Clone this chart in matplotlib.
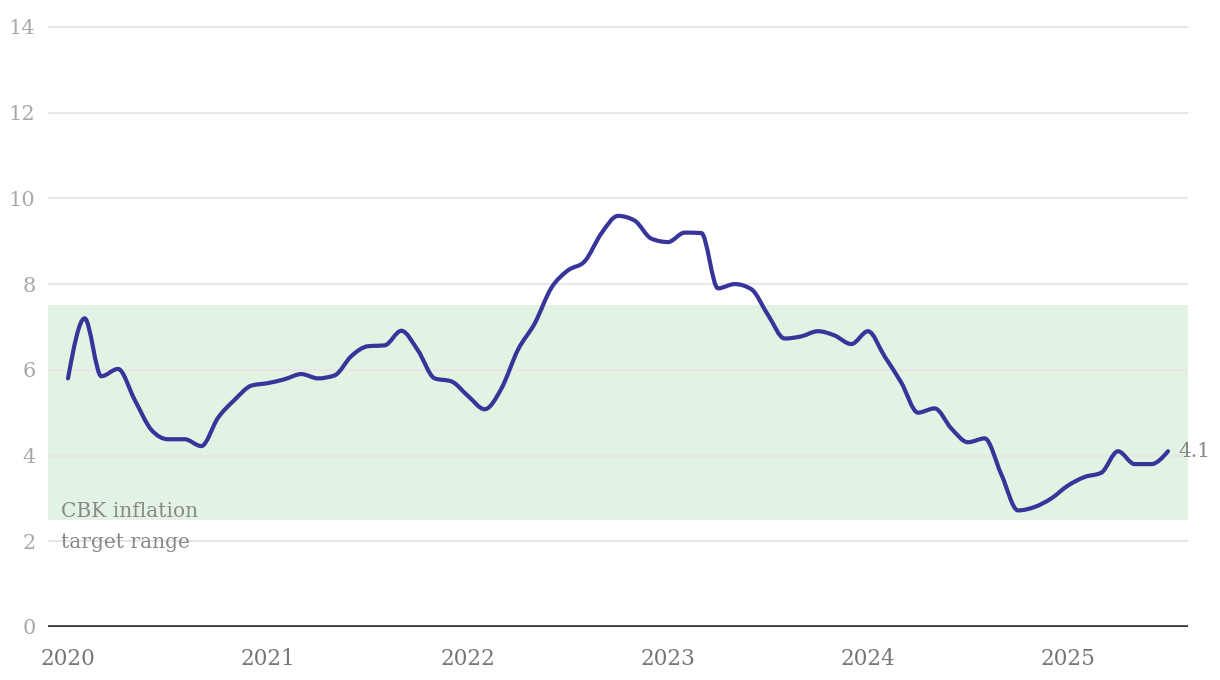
import numpy as np
import matplotlib
matplotlib.use("Agg")
import matplotlib.pyplot as plt
from matplotlib.path import Path
from matplotlib.patches import PathPatch

# Kenya CPI inflation, % y/y, monthly Jan 2020 - Jul 2025
values_2020 = [5.8, 7.2, 5.85, 6.02, 5.3, 4.6, 4.38, 4.38, 4.22, 4.88, 5.3, 5.63]
values_2021 = [5.69, 5.78, 5.9, 5.8, 5.87, 6.32, 6.55, 6.57, 6.91, 6.45, 5.8, 5.73]
values_2022 = [5.39, 5.08, 5.56, 6.47, 7.08, 7.91, 8.32, 8.53, 9.18, 9.59, 9.48, 9.06]
values_2023 = [8.98, 9.2, 9.19, 7.9, 8.0, 7.88, 7.28, 6.73, 6.78, 6.9, 6.8, 6.6]
values_2024 = [6.9, 6.31, 5.7, 5.0, 5.1, 4.63, 4.31, 4.4, 3.56, 2.72, 2.8, 3.0]
values_2025 = [3.3, 3.5, 3.6, 4.1, 3.8, 3.8, 4.1]
inflation = values_2020 + values_2021 + values_2022 + values_2023 + values_2024 + values_2025
years = [2020, 2021, 2022, 2023, 2024, 2025]
target_low, target_high = 2.5, 7.5
target_label = "CBK inflation\ntarget range"
y_ticks = [0, 2, 4, 6, 8, 10, 12, 14]
end_label = "4.1"

x = np.arange(len(inflation), dtype=float)
y = np.array(inflation, dtype=float)

W, H = 1220, 680
fig = plt.figure(figsize=(W / 100, H / 100), dpi=100)
ax = fig.add_axes([48 / W, 1 - 627 / H, (1188 - 48) / W, (627 - 26) / H])
ax.set_xlim(-1.2, 67.2)
ax.set_ylim(0, 14.02)

serif = ["DejaVu Serif"]

# target band
ax.axhspan(target_low, target_high, color="#e3f3e3", zorder=0, lw=0)

# grid
for t in y_ticks[1:]:
    ax.axhline(t, color="#e6e6e6", lw=1.5, zorder=1)
ax.axhline(0, color="#333333", lw=2.6, zorder=3)

# monotone cubic (d3 curveMonotoneX) rendered as Bezier path
def monotone_path(xs, ys):
    n = len(xs)
    h = np.diff(xs)
    s = np.diff(ys) / h
    m = np.zeros(n)
    for i in range(1, n - 1):
        if s[i - 1] * s[i] <= 0:
            m[i] = 0
        else:
            p = (s[i - 1] * h[i] + s[i] * h[i - 1]) / (h[i - 1] + h[i])
            m[i] = (np.sign(s[i - 1]) + np.sign(s[i])) * min(abs(s[i - 1]), abs(s[i]), 0.5 * abs(p))
    m[0] = (3 * s[0] - m[1]) / 2 if n > 2 else s[0]
    m[-1] = (3 * s[-1] - m[-2]) / 2 if n > 2 else s[-1]
    verts = [(xs[0], ys[0])]
    codes = [Path.MOVETO]
    for i in range(n - 1):
        dx = h[i] / 3
        verts += [(xs[i] + dx, ys[i] + m[i] * dx), (xs[i + 1] - dx, ys[i + 1] - m[i + 1] * dx), (xs[i + 1], ys[i + 1])]
        codes += [Path.CURVE4] * 3
    return Path(verts, codes)

ax.add_patch(PathPatch(monotone_path(x, y), fill=False, edgecolor="#37349a", lw=3.0,
                       capstyle="round", joinstyle="round", zorder=4))

# ticks
ax.set_yticks(y_ticks)
ax.set_yticklabels([str(t) for t in y_ticks], family=serif, fontsize=15, color="#a8a8a8")
ax.set_xticks([(yr - 2020) * 12 for yr in years])
ax.set_xticklabels([str(yr) for yr in years], family=serif, fontsize=15.5, color="#777777")
ax.tick_params(axis="y", length=0, pad=9)
ax.tick_params(axis="x", length=0, pad=15)
for sp in ax.spines.values():
    sp.set_visible(False)

ax.text(-0.4, 2.92, target_label, family=serif, fontsize=14.5, color="#888888",
        ha="left", va="top", linespacing=1.78, zorder=5)
ax.text(x[-1] + 0.6, y[-1], end_label, family=serif, fontsize=14.5, color="#888888",
        ha="left", va="center", zorder=5, clip_on=False)

fig.savefig("out.png", dpi=100)
